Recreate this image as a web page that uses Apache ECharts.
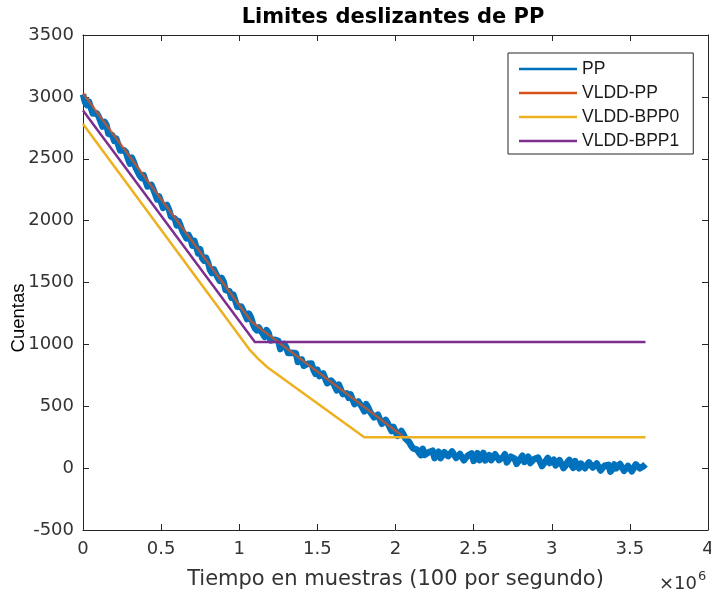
<!DOCTYPE html>
<html>
<head>
<meta charset="utf-8">
<title>Limites deslizantes de PP</title>
<script src="https://cdn.jsdelivr.net/npm/echarts@6/dist/echarts.min.js"></script>
<style>
  html, body { margin: 0; padding: 0; background: #fff; }
  #chart { width: 711px; height: 591px; }
</style>
</head>
<body>
<div id="chart"></div>
<script>
// Sample spacing of the PP record (samples)
const ppStep = 12500;

// PP counts, one value every ppStep samples, from 0 to 3.6e6
const ppValues = [
  // steep descent
  3020, 2959, 2933, 2962, 2946, 2865, 2859, 2868, 2842, 2801,
  2760, 2799, 2773, 2702, 2701, 2690, 2644, 2663, 2657, 2566,
  2570, 2569, 2552, 2501, 2460, 2509, 2473, 2427, 2416, 2365,
  2344, 2368, 2357, 2276, 2270, 2289, 2253, 2212, 2171, 2195,
  2184, 2103, 2097, 2126, 2090, 2034, 2028, 2017, 1961, 1995,
  1984, 1913, 1897, 1856, 1885, 1854, 1798, 1837, 1786, 1735,
  1769, 1697, 1676, 1700, 1664, 1603, 1577, 1606, 1595, 1539,
  1513, 1537, 1506, 1440, 1439, 1428, 1377, 1401, 1390, 1304,
  1308, 1307, 1291, 1240, 1204, 1248, 1217, 1166, 1130,
  // slower descent
  1113, 1137, 1135, 1088, 1061, 1115, 1093, 1031, 1034, 1038,
  1036, 1029, 962, 956, 1004, 978, 931, 929, 932, 941,
  929, 857, 865, 879, 827, 825, 843, 852, 845, 794,
  762, 795, 743, 727, 765, 758, 686, 690, 708, 691,
  659, 628, 676, 660, 598, 606, 604, 568, 596, 599,
  517, 531, 539, 532, 490, 459, 517, 491, 454, 452,
  410, 399, 432, 430, 358, 362, 390, 363, 331, 300,
  333, 332, 260, 263, 301, 275,
  // knee
  240, 228, 210, 180, 160, 165, 150, 125, 105,
  // tail
  155, 107, 95, 128, 132, 141, 80, 108, 132, 81,
  100, 129, 143, 97, 86, 135, 109, 82, 71, 115,
  124, 63, 82, 101, 105, 119, 58, 82, 121, 65,
  84, 123, 62, 86, 105, 64, 53, 112, 96, 65,
  69, 88, 112, 46, 55, 93, 97, 76, 35, 44,
  78, 101, 50, 53, 92, 41, 35, 73, 62, 85,
  74, 17, 21, 59, 83, 41, 35, 68, 22, 10,
  64, 57, 1, 19, 48, 66, 25, 3, 57, 25,
  -1, 37, 31, -1, -12, 47, 36, 5, -1, 38,
  47, -19, -10, 19, 13, 27, -29, -10, 30, -1,
  -6, 33, 18, -22, -27, 18, 33, -26, -15, 31,
  17, -2, -15, 16, 32
];

// Sliding limits: [sample, counts] breakpoints
const vlddPP   = [[0, 3030], [1080000, 1180], [2050000, 255]];
const vlddBPP0 = [[0, 2780], [1070000, 951], [1120000, 885], [1180000, 815], [1800000, 250], [3600000, 250]];
const vlddBPP1 = [[0, 2890], [1100000, 1020], [3600000, 1020]];

const seriesNames = ['PP', 'VLDD-PP', 'VLDD-BPP0', 'VLDD-BPP1'];
const seriesColors = ['#0072BD', '#D95319', '#EDB120', '#7E2F8E'];

const xTicks = { min: 0, max: 4000000, step: 500000, scale: 1e6 };
const yTicks = { min: -500, max: 3500, step: 500 };

const ppData = ppValues.map((v, i) => [i * ppStep, v]);

const axisColor = '#262626';
const textColor = '#333333';
const tickFont = 'DejaVu Sans';

const chart = echarts.init(document.getElementById('chart'), null, { renderer: 'canvas' });

const grid = { left: 83, right: 3, top: 35, bottom: 61, containLabel: false, outerBoundsMode: 'none' };

function boxAxisX(position, showLabel) {
  return {
    type: 'value',
    position: position,
    min: xTicks.min, max: xTicks.max, interval: xTicks.step,
    axisLine: { show: true, onZero: false, lineStyle: { color: axisColor, width: 1 } },
    axisTick: { show: true, inside: true, length: 6, lineStyle: { color: axisColor } },
    splitLine: { show: false },
    axisLabel: {
      show: showLabel, margin: 10, color: textColor, fontFamily: tickFont, fontSize: 18,
      hideOverlap: false,
      formatter: v => String(v / xTicks.scale)
    }
  };
}
function boxAxisY(position, showLabel) {
  return {
    type: 'value',
    position: position,
    min: yTicks.min, max: yTicks.max, interval: yTicks.step,
    axisLine: { show: true, onZero: false, lineStyle: { color: axisColor, width: 1 } },
    axisTick: { show: true, inside: true, length: 6, lineStyle: { color: axisColor } },
    splitLine: { show: false },
    axisLabel: {
      show: showLabel, margin: 9, color: textColor, fontFamily: tickFont, fontSize: 18,
      formatter: v => String(v)
    }
  };
}

const xMain = boxAxisX('bottom', true);
xMain.name = 'Tiempo en muestras (100 por segundo)';
xMain.nameLocation = 'middle';
xMain.nameGap = 39;
xMain.nameTextStyle = { color: textColor, fontFamily: tickFont, fontSize: 21 };

const lineData = [ppData, vlddPP, vlddBPP0, vlddBPP1];
const lineWidths = [6.5, 2.5, 2.5, 2.5];
const lineOpacity = [1, 0.75, 1, 1];

chart.setOption({
  animation: false,
  backgroundColor: '#ffffff',
  grid: grid,
  xAxis: [xMain, boxAxisX('top', false)],
  yAxis: [boxAxisY('left', true), boxAxisY('right', false)],
  legend: {
    orient: 'vertical',
    left: 508, top: 53,
    padding: [7, 14, 4, 11],
    icon: 'rect',
    itemWidth: 58, itemHeight: 2.5, itemGap: 6,
    backgroundColor: '#ffffff',
    borderColor: axisColor, borderWidth: 1,
    textStyle: { color: '#1a1a1a', fontFamily: 'Liberation Sans', fontSize: 17.5, lineHeight: 18 },
    data: seriesNames.map((n, i) => ({ name: n, itemStyle: { color: seriesColors[i], opacity: 1 } }))
  },
  graphic: [
    {
      type: 'text',
      style: {
        text: 'Limites deslizantes de PP', x: 393, y: 18,
        textAlign: 'center', textVerticalAlign: 'middle',
        font: 'bold 21px "DejaVu Sans"', fill: '#000'
      }
    },
    {
      type: 'text', rotation: Math.PI / 2,
      x: 19, y: 318,
      style: {
        text: 'Cuentas', x: 0, y: 0,
        textAlign: 'center', textVerticalAlign: 'middle',
        font: '18.5px "Liberation Sans"', fill: '#000'
      }
    },
    {
      type: 'text',
      style: {
        text: '{b|×10}{s|6}', x: 659, y: 582,
        textVerticalAlign: 'middle',
        rich: {
          b: { fontFamily: tickFont, fontSize: 18, fill: textColor, color: textColor, verticalAlign: 'bottom' },
          s: { fontFamily: tickFont, fontSize: 13, fill: textColor, color: textColor, verticalAlign: 'top', padding: [0, 0, 10, 1] }
        }
      }
    }
  ],
  series: seriesNames.map((name, i) => ({
    name: name,
    type: 'line',
    data: lineData[i],
    xAxisIndex: 0, yAxisIndex: 0,
    symbol: 'none',
    showSymbol: false,
    clip: true,
    color: seriesColors[i],
    lineStyle: { color: seriesColors[i], width: lineWidths[i], join: 'round', opacity: lineOpacity[i] },
    z: 2 + i
  }))
});
</script>
</body>
</html>
